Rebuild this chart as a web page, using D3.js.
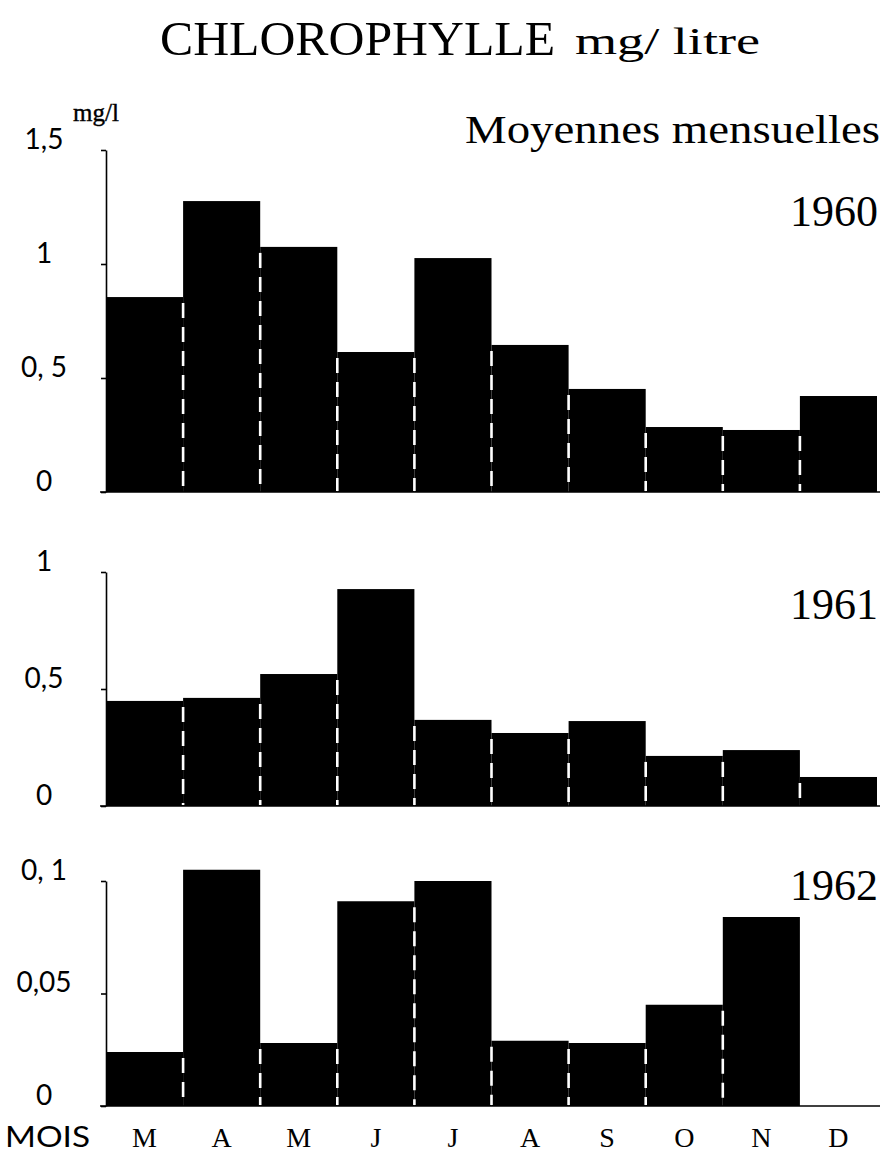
<!DOCTYPE html>
<html>
<head>
<meta charset="utf-8">
<script src="https://cdn.jsdelivr.net/npm/d3@7"></script>
<style>
  html, body { margin: 0; padding: 0; background: #fff; }
  svg { display: block; }
</style>
</head>
<body>
<script>
// ---- data ----
const months = ["M", "A", "M", "J", "J", "A", "S", "O", "N", "D"];
const values1960 = [0.855, 1.276, 1.075, 0.614, 1.026, 0.645, 0.452, 0.285, 0.272, 0.421];
const values1961 = [0.449, 0.462, 0.564, 0.927, 0.368, 0.312, 0.363, 0.214, 0.239, 0.124];
const values1962 = [0.024, 0.105, 0.028, 0.091, 0.100, 0.029, 0.028, 0.045, 0.084, 0];
const ticks1960 = [0, 0.5, 1, 1.5];
const tickLabels1960 = ["0", "0, 5", "1", "1,5"];
const ticks1961 = [0, 0.5, 1];
const tickLabels1961 = ["0", "0,5", "1"];
const ticks1962 = [0, 0.05, 0.1];
const tickLabels1962 = ["0", "0,05", "0, 1"];
const years = ["1960", "1961", "1962"];

const W = 886, H = 1152;
const svg = d3.select("body").append("svg").attr("width", W).attr("height", H);

const serif = "'Liberation Serif', 'DejaVu Serif', serif";
const sans = "Lato, 'Open Sans', sans-serif";

const x = d3.scaleBand().domain(d3.range(months.length)).range([106, 877]).padding(0);

const panels = [
  { values: values1960, ticks: ticks1960, labels: tickLabels1960, year: years[0], range: [492, 150], yearY: 226 },
  { values: values1961, ticks: ticks1961, labels: tickLabels1961, year: years[1], range: [806, 572], yearY: 619 },
  { values: values1962, ticks: ticks1962, labels: tickLabels1962, year: years[2], range: [1106, 881], yearY: 900 }
];

panels.forEach(p => {
  const y = d3.scaleLinear().domain([0, d3.max(p.ticks)]).range(p.range);
  const g = svg.append("g");

  // bars
  g.selectAll("rect.bar").data(p.values).join("rect")
    .attr("class", "bar")
    .attr("x", (d, i) => x(i))
    .attr("width", x.bandwidth())
    .attr("y", d => y(d))
    .attr("height", d => y(0) - y(d))
    .attr("fill", "#000");

  // white dashed separators between adjacent bars
  const seps = d3.range(1, p.values.length)
    .filter(i => p.values[i] > 0 && p.values[i - 1] > 0)
    .map(i => ({ i, v: Math.min(p.values[i], p.values[i - 1]) }));
  g.selectAll("line.sep").data(seps).join("line")
    .attr("class", "sep")
    .attr("x1", d => x(d.i)).attr("x2", d => x(d.i))
    .attr("y1", d => y(d.v) + 6)
    .attr("y2", y(0) - 1)
    .attr("stroke", "#fff")
    .attr("stroke-width", 2.6)
    .attr("stroke-dasharray", "15,9");

  // baseline
  g.append("line")
    .attr("x1", x(0) - 6).attr("x2", 880)
    .attr("y1", y(0)).attr("y2", y(0))
    .attr("stroke", "#000").attr("stroke-width", 1.6);

  // y axis
  const ax = g.append("g")
    .attr("transform", `translate(${x(0)},0)`)
    .call(d3.axisLeft(y).tickValues(p.ticks).tickSize(5).tickSizeOuter(0)
      .tickFormat((d, i) => p.labels[i]));
  ax.select(".domain").attr("stroke", "#000").attr("stroke-width", 1.6);
  ax.selectAll(".tick line").attr("stroke", "#000").attr("stroke-width", 1.6);
  ax.selectAll(".tick text")
    .attr("x", -62)
    .attr("dy", "-0.06em")
    .attr("text-anchor", "middle")
    .style("font-family", sans)
    .style("font-size", "28px")
    .style("white-space", "pre")
    .attr("fill", "#000");

  // year label
  svg.append("text")
    .attr("x", 878).attr("y", p.yearY)
    .attr("text-anchor", "end")
    .style("font-family", serif)
    .style("font-size", "44px")
    .attr("fill", "#000")
    .text(p.year);
});

// titles
svg.append("text")
  .attr("x", 160).attr("y", 55)
  .style("font-family", serif).style("font-size", "48px")
  .attr("textLength", 395).attr("lengthAdjust", "spacingAndGlyphs")
  .text("CHLOROPHYLLE");
svg.append("text")
  .attr("x", 575).attr("y", 54)
  .style("font-family", serif).style("font-size", "38px")
  .attr("textLength", 185).attr("lengthAdjust", "spacingAndGlyphs")
  .text("mg/ litre");
svg.append("text")
  .attr("x", 880).attr("y", 143)
  .attr("text-anchor", "end")
  .style("font-family", serif).style("font-size", "40px")
  .attr("textLength", 415).attr("lengthAdjust", "spacingAndGlyphs")
  .text("Moyennes mensuelles");
svg.append("text")
  .attr("x", 96).attr("y", 121)
  .attr("text-anchor", "middle")
  .style("font-family", serif).style("font-size", "25px")
  .attr("stroke", "#000").attr("stroke-width", 0.4)
  .text("mg/l");

// x labels
svg.append("text")
  .attr("x", 5).attr("y", 1147)
  .style("font-family", sans).style("font-size", "28px")
  .attr("textLength", 85).attr("lengthAdjust", "spacingAndGlyphs")
  .text("MOIS");
svg.selectAll("text.month").data(months).join("text")
  .attr("class", "month")
  .attr("x", (d, i) => x(i) + x.bandwidth() / 2)
  .attr("y", 1147)
  .attr("text-anchor", "middle")
  .style("font-family", serif).style("font-size", "28px")
  .text(d => d);
</script>
</body>
</html>
